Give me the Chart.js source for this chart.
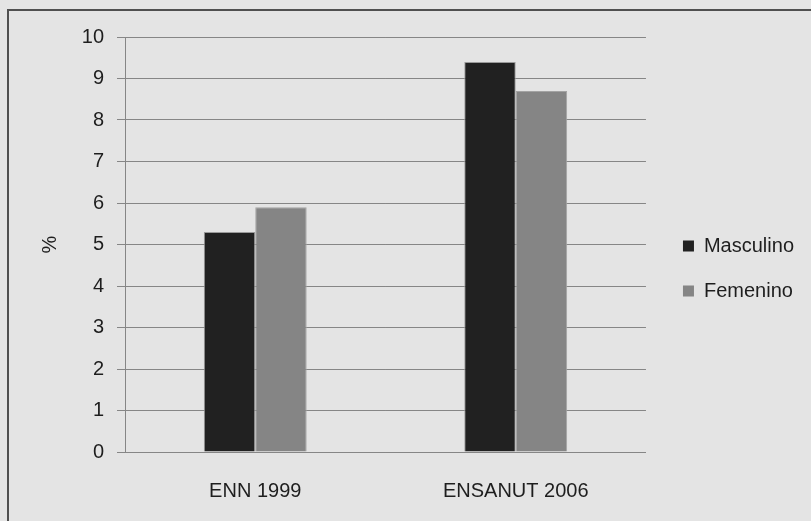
<!DOCTYPE html>
<html>
<head>
<meta charset="utf-8">
<script src="https://cdn.jsdelivr.net/npm/chart.js@4/dist/chart.umd.min.js"></script>
<style>
  html, body { margin: 0; padding: 0; background: #e4e4e4; overflow: hidden; }
  #frame { position: absolute; left: 7px; top: 9px; width: 1000px; height: 1000px; border: 2px solid #4f4f4f; }
  #wrap { position: absolute; left: 0; top: 0; width: 811px; height: 521px; }
</style>
</head>
<body>
<div id="frame"></div>
<div id="wrap"><canvas id="c" width="811" height="521"></canvas></div>
<script>
const categories = ['ENN 1999', 'ENSANUT 2006'];
const seriesNames = ['Masculino', 'Femenino'];
const masculino = [5.3, 9.4];
const femenino = [5.9, 8.7];
const yTicks = [0, 1, 2, 3, 4, 5, 6, 7, 8, 9, 10];

const FONT = 'Liberation Sans';
const TEXT = '#1e1e1e';
const GRID = '#868686';

// move the legend a little to the right of the plot area
const legendShift = {
  id: 'legendShift',
  afterLayout(chart) {
    if (chart.legend) {
      chart.legend.left += 12;
      chart.legend.right += 12;
    }
  }
};

new Chart(document.getElementById('c'), {
  type: 'bar',
  data: {
    labels: categories,
    datasets: [
      { label: seriesNames[0], data: masculino, backgroundColor: '#212121', borderColor: '#9a9a9a', borderWidth: 1 },
      { label: seriesNames[1], data: femenino, backgroundColor: '#858585', borderColor: '#a3a3a3', borderWidth: 1 }
    ]
  },
  plugins: [legendShift],
  options: {
    responsive: false,
    animation: false,
    devicePixelRatio: 1,
    layout: { padding: { left: 38, top: 37, right: 19, bottom: 21 } },
    datasets: { bar: { barPercentage: 1, categoryPercentage: 0.395 } },
    plugins: {
      tooltip: { enabled: false },
      legend: {
        position: 'right',
        align: 'center',
        labels: {
          color: TEXT,
          boxWidth: 11,
          boxHeight: 11,
          padding: 25,
          font: { family: FONT, size: 20 },
          generateLabels(chart) {
            const items = Chart.defaults.plugins.legend.labels.generateLabels(chart);
            items.forEach(it => { it.lineWidth = 0; });
            return items;
          }
        }
      }
    },
    scales: {
      x: {
        grid: { display: false, drawTicks: false },
        border: { display: true, color: GRID, width: 1 },
        ticks: { color: TEXT, font: { family: FONT, size: 20 }, padding: 27, maxRotation: 0 },
        afterFit(scale) { scale.height = 48; }
      },
      y: {
        min: 0,
        max: 10,
        afterBuildTicks(scale) { scale.ticks = yTicks.map(v => ({ value: v })); },
        grid: { color: GRID, lineWidth: 1, drawTicks: true, tickLength: 8 },
        border: { display: true, color: GRID, width: 1 },
        ticks: { color: TEXT, font: { family: FONT, size: 20 }, padding: 13 },
        title: { display: true, text: '%', color: TEXT, font: { family: FONT, size: 20 }, padding: 0 },
        afterFit(scale) { scale.width = 87; }
      }
    }
  }
});
</script>
</body>
</html>
